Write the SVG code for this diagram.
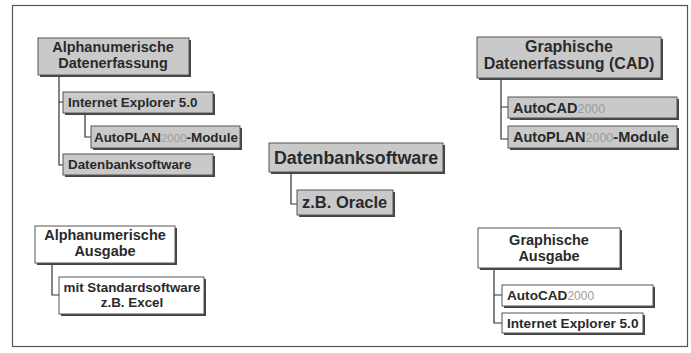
<svg xmlns="http://www.w3.org/2000/svg" width="691" height="353" viewBox="0 0 691 353">
<style>
text{font-family:"Liberation Sans",Arial,sans-serif;font-weight:bold;fill:#2a2a2a}
.g{fill:#c9c9c9;stroke:#555;stroke-width:1}
.w{fill:#fff;stroke:#555;stroke-width:1}
.sh{fill:#444}
.c{text-anchor:middle}
.n{fill:#9c9c9c;font-weight:normal}
.ln{stroke:#333;stroke-width:1.2;fill:none}
</style>
<rect x="0" y="0" width="691" height="353" fill="#fff"/>
<rect x="12.5" y="5.5" width="675" height="341" fill="none" stroke="#555" stroke-width="1.2"/>
<g id="connectors">
<path class="ln" d="M59 75V165H63M59 102H63M85 113V137H91"/>
<path class="ln" d="M501 78V139H508M501 107H508"/>
<path class="ln" d="M291 172V204H297"/>
<path class="ln" d="M52 263V295H59"/>
<path class="ln" d="M494 268V323H502M494 295H502"/>
</g>
<g id="alpha_erfassung">
<rect class="sh" x="40" y="40" width="151" height="37"/>
<rect class="g" x="38" y="38" width="151" height="37"/>
<text class="c" x="113" y="52" font-size="14.5">Alphanumerische</text>
<text class="c" x="113" y="68" font-size="14.5">Datenerfassung</text>
</g>
<g id="ie_left">
<rect class="sh" x="65" y="94" width="150" height="21"/>
<rect class="g" x="63" y="92" width="150" height="21"/>
<text x="68" y="107" font-size="13.4">Internet Explorer 5.0</text>
</g>
<g id="autoplan_left">
<rect class="sh" x="93" y="128" width="149" height="22"/>
<rect class="g" x="91" y="126" width="149" height="22"/>
<text x="94" y="142" font-size="13.4">AutoPLAN<tspan class="n" font-size="11.5">2000</tspan>-Module</text>
</g>
<g id="db_left">
<rect class="sh" x="65" y="156" width="150" height="21"/>
<rect class="g" x="63" y="154" width="150" height="21"/>
<text x="68" y="169" font-size="13.4">Datenbanksoftware</text>
</g>
<g id="graph_erfassung">
<rect class="sh" x="479" y="39" width="184" height="41"/>
<rect class="g" x="477" y="37" width="184" height="41"/>
<text class="c" x="569" y="52" font-size="16">Graphische</text>
<text class="c" x="569" y="69" font-size="16">Datenerfassung (CAD)</text>
</g>
<g id="autocad_right">
<rect class="sh" x="510" y="99" width="169" height="21"/>
<rect class="g" x="508" y="97" width="169" height="21"/>
<text x="513" y="113" font-size="14.5">AutoCAD<tspan class="n" font-size="12.5">2000</tspan></text>
</g>
<g id="autoplan_right">
<rect class="sh" x="510" y="128" width="169" height="22"/>
<rect class="g" x="508" y="126" width="169" height="22"/>
<text x="513" y="142" font-size="14.5">AutoPLAN<tspan class="n" font-size="12.5">2000</tspan>-Module</text>
</g>
<g id="db_center">
<rect class="sh" x="271" y="145" width="174" height="29"/>
<rect class="g" x="269" y="143" width="174" height="29"/>
<text x="274" y="164" font-size="17.8">Datenbanksoftware</text>
</g>
<g id="oracle">
<rect class="sh" x="299" y="192" width="96" height="25"/>
<rect class="g" x="297" y="190" width="96" height="25"/>
<text x="302" y="208" font-size="16.5">z.B. Oracle</text>
</g>
<g id="alpha_ausgabe">
<rect class="sh" x="37" y="228" width="140" height="37"/>
<rect class="w" x="35" y="226" width="140" height="37"/>
<text class="c" x="105" y="240" font-size="14.5">Alphanumerische</text>
<text class="c" x="105" y="256" font-size="14.5">Ausgabe</text>
</g>
<g id="excel">
<rect class="sh" x="61" y="279" width="145" height="37"/>
<rect class="w" x="59" y="277" width="145" height="37"/>
<text class="c" x="132" y="292" font-size="13.4">mit Standardsoftware</text>
<text class="c" x="132" y="307" font-size="13.4">z.B. Excel</text>
</g>
<g id="graph_ausgabe">
<rect class="sh" x="480" y="230" width="142" height="40"/>
<rect class="w" x="478" y="228" width="142" height="40"/>
<text class="c" x="549" y="245" font-size="14.5">Graphische</text>
<text class="c" x="549" y="261" font-size="14.5">Ausgabe</text>
</g>
<g id="autocad_bottom">
<rect class="sh" x="504" y="287" width="151" height="21"/>
<rect class="w" x="502" y="285" width="151" height="21"/>
<text x="507" y="300" font-size="13.6">AutoCAD<tspan class="n" font-size="12">2000</tspan></text>
</g>
<g id="ie_bottom">
<rect class="sh" x="504" y="315" width="141" height="20"/>
<rect class="w" x="502" y="313" width="141" height="20"/>
<text x="507" y="328" font-size="13.6">Internet Explorer 5.0</text>
</g>
</svg>
